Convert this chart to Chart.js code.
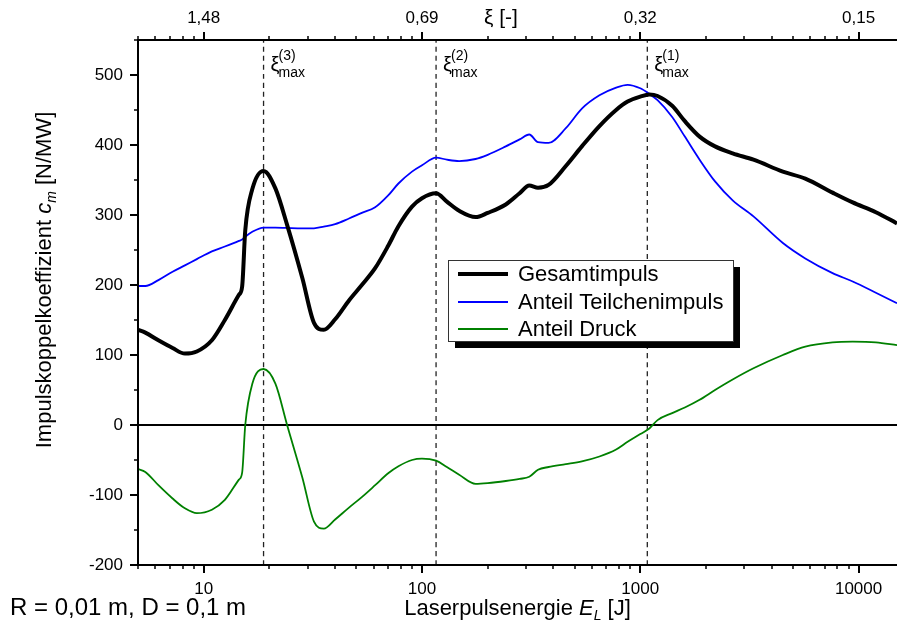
<!DOCTYPE html>
<html>
<head>
<meta charset="utf-8">
<script src="https://cdn.jsdelivr.net/npm/chart.js@4/dist/chart.umd.min.js"></script>
<style>
html,body{margin:0;padding:0;background:#fff;}
canvas{display:block;}
</style>
</head>
<body>
<canvas id="c" width="897" height="629" style="width:897px;height:629px"></canvas>
<script>
// ---------- DATA ----------
const energyJ = [5, 5.4, 6.2, 7.2, 8.2, 9.3, 10.9, 12.5, 14.5, 15, 15.5,
  16.7, 18.8, 21.3, 24.1, 28.3, 32, 35.5, 40, 46.3, 53,
  61, 70, 78, 90, 100, 116, 130, 148, 176, 200,
  242, 280, 310, 340, 380, 456, 540, 650, 775, 875,
  1000, 1100, 1200, 1400, 1600, 1870, 2200, 2650, 3300, 4500,
  5700, 7600, 9400, 12000, 15000];

const gesamtimpuls = [136, 132, 121, 110, 102, 105, 121, 150, 186, 198, 278,
  337, 363, 338, 286, 210, 146, 136, 151, 178, 200,
  224, 256, 284, 312, 324, 331, 319, 306, 297, 303,
  315, 331, 342, 339, 343, 370, 398, 427, 450, 462,
  469, 472, 470, 456, 434, 412, 398, 388, 379, 362,
  352, 332, 318, 304, 288];

const anteilTeilchenimpuls = [198.6, 198.6, 207, 219, 228, 237, 248, 255, 263, 265, 269,
  276, 282, 282, 281.5, 281, 281, 283.5, 287, 295, 303,
  311, 328, 345, 362, 371, 382, 379, 377, 380, 386,
  398, 408, 415, 404, 403, 424, 452, 471, 482, 486,
  481, 473, 464, 440, 412, 379, 348, 321, 298, 260,
  238, 217, 205, 189, 174];

const anteilDruck = [-63, -67, -86, -105, -119, -126, -121, -107, -78, -68, 0,
  59, 80, 59, 0, -75, -138, -148, -135, -118, -103,
  -86, -69, -59, -50, -48, -51, -60, -71, -84, -83,
  -80, -77, -74, -64, -60, -56, -52, -45, -35, -24,
  -13, -5, 7, 17, 25, 36, 50, 65, 81, 100,
  112, 118, 119, 118, 114];

const seriesLabels = ['Gesamtimpuls', 'Anteil Teilchenimpuls', 'Anteil Druck'];
const xiTickEnergies = [10, 100, 1000, 10000];
const xiTickLabels = ['1,48', '0,69', '0,32', '0,15'];
const xiMaxEnergies = [1077, 116, 18.8];
const xiMaxIndices = ['(1)', '(2)', '(3)'];
const xMin = 5, xMax = 15000, yMin = -200, yMax = 550;

// ---------- STYLE ----------
const FONT = "'Liberation Sans', Arial, Helvetica, sans-serif";
const pts = (arr) => energyJ.map((e, i) => ({x: e, y: arr[i]}));

function fontStr(p) {
  return (p.italic ? 'italic ' : '') + p.size + 'px ' + FONT;
}
function drawRich(ctx, parts, x, y, align) {
  let w = 0;
  parts.forEach(p => { ctx.font = fontStr(p); p.w = ctx.measureText(p.t).width; w += p.w; });
  let cx = align === 'center' ? x - w / 2 : x;
  parts.forEach(p => { ctx.font = fontStr(p); ctx.fillText(p.t, cx, y + (p.dy || 0)); cx += p.w; });
}
function isDecade(v) {
  const l = Math.log10(v);
  return Math.abs(l - Math.round(l)) < 1e-9;
}
function logTickValues(min, max) {
  const out = [];
  for (let k = Math.floor(Math.log10(min)); k <= Math.ceil(Math.log10(max)); k++) {
    for (let m = 1; m <= 9; m++) {
      const v = m * Math.pow(10, k);
      if (v >= min - 1e-9 && v <= max + 1e-9) out.push(v);
    }
  }
  return out;
}

const decor = {
  id: 'decor',
  afterDatasetsDraw(chart) {
    const ctx = chart.ctx;
    const a = chart.chartArea;
    const sx = chart.scales.x, sy = chart.scales.y;
    ctx.save();
    ctx.fillStyle = '#000';
    ctx.strokeStyle = '#000';

    // xi max labels
    ctx.textBaseline = 'alphabetic';
    ctx.textAlign = 'left';
    xiMaxEnergies.forEach((e, i) => {
      const px = sx.getPixelForValue(e);
      ctx.font = fontStr({size: 20});
      ctx.fillText('ξ', px + 7, 71);
      const w = ctx.measureText('ξ').width;
      ctx.font = fontStr({size: 14});
      ctx.fillText(xiMaxIndices[i], px + 7 + w - 1, 60);
      ctx.fillText('max', px + 7 + w - 1, 77);
    });

    // legend box with shadow
    const lx = 448, ly = 260, lw = 285, lh = 81;
    ctx.fillStyle = '#000';
    ctx.fillRect(lx + 7, ly + 7, lw, lh);
    ctx.fillStyle = '#fff';
    ctx.fillRect(lx, ly, lw, lh);
    ctx.lineWidth = 1;
    ctx.strokeStyle = '#333';
    ctx.strokeRect(lx + 0.5, ly + 0.5, lw, lh);
    const rows = [274, 302, 329];
    chart.data.datasets.slice(0, 3).forEach((ds, i) => {
      ctx.strokeStyle = ds.borderColor;
      ctx.lineWidth = ds.borderWidth;
      ctx.beginPath();
      ctx.moveTo(458, rows[i]);
      ctx.lineTo(508, rows[i]);
      ctx.stroke();
      ctx.fillStyle = '#000';
      ctx.font = fontStr({size: 22});
      ctx.textBaseline = 'middle';
      ctx.fillText(ds.label, 518, rows[i] + 1);
    });

    // frame
    ctx.strokeStyle = '#000';
    ctx.lineWidth = 2;
    ctx.beginPath();
    ctx.moveTo(a.left, a.top); ctx.lineTo(a.right + 2, a.top);
    ctx.moveTo(a.left, a.top - 1); ctx.lineTo(a.left, a.bottom + 1);
    ctx.moveTo(a.left - 1, a.bottom); ctx.lineTo(a.right + 2, a.bottom);
    ctx.stroke();

    // x ticks (bottom and top)
    logTickValues(xMin, xMax).forEach(v => {
      const px = Math.round(sx.getPixelForValue(v));
      const len = isDecade(v) ? 8 : 4;
      ctx.lineWidth = isDecade(v) ? 2 : 1.5;
      ctx.beginPath();
      ctx.moveTo(px, a.bottom); ctx.lineTo(px, a.bottom + len);
      ctx.moveTo(px, a.top); ctx.lineTo(px, a.top - len);
      ctx.stroke();
    });
    // y ticks
    for (let v = yMin; v <= yMax; v += 50) {
      const py = Math.round(sy.getPixelForValue(v));
      const major = v % 100 === 0;
      const len = major ? 8 : 4;
      ctx.lineWidth = major ? 2 : 1.5;
      ctx.beginPath();
      ctx.moveTo(a.left, py); ctx.lineTo(a.left - len, py);
      ctx.stroke();
    }

    // axis titles
    ctx.fillStyle = '#000';
    ctx.textBaseline = 'alphabetic';
    ctx.textAlign = 'left';
    drawRich(ctx, [
      {t: 'Laserpulsenergie ', size: 22},
      {t: 'E', size: 22, italic: true},
      {t: 'L', size: 14, italic: true, dy: 5},
      {t: ' [J]', size: 22}
    ], (a.left + a.right) / 2, 615, 'center');
    drawRich(ctx, [{t: 'R = 0,01 m, D = 0,1 m', size: 24}], 10, 615, 'left');
    drawRich(ctx, [{t: 'ξ [-]', size: 21}], 484, 24, 'left');

    ctx.translate(51, 280);
    ctx.rotate(-Math.PI / 2);
    drawRich(ctx, [
      {t: 'Impulskoppelkoeffizient ', size: 22},
      {t: 'c', size: 22, italic: true},
      {t: 'm', size: 14, italic: true, dy: 5},
      {t: ' [N/MW]', size: 22}
    ], 0, 0, 'center');
    ctx.restore();
  }
};

const tickFont = {family: FONT, size: 17};
const noPad = (s) => { s.paddingLeft = 0; s.paddingRight = 0; s.paddingTop = 0; s.paddingBottom = 0; };

const datasets = [
  {label: seriesLabels[0], data: pts(gesamtimpuls), borderColor: '#000000', borderWidth: 4, order: 0},
  {label: seriesLabels[1], data: pts(anteilTeilchenimpuls), borderColor: '#0000ff', borderWidth: 1.8, order: 1},
  {label: seriesLabels[2], data: pts(anteilDruck), borderColor: '#008000', borderWidth: 1.8, order: 2},
  {label: 'null', data: [{x: xMin, y: 0}, {x: xMax, y: 0}], borderColor: '#000', borderWidth: 2, order: 3}
];
xiMaxEnergies.forEach((e, i) => {
  datasets.push({label: 'xi' + i, data: [{x: e, y: yMin}, {x: e, y: yMax}],
    borderColor: '#222', borderWidth: 1.3, borderDash: [5, 4], order: 4});
});

new Chart(document.getElementById('c'), {
  type: 'line',
  data: {datasets},
  options: {
    responsive: false,
    animation: false,
    layout: {padding: 0},
    elements: {
      point: {radius: 0},
      line: {cubicInterpolationMode: 'monotone', fill: false}
    },
    plugins: {legend: {display: false}, tooltip: {enabled: false}},
    scales: {
      x: {
        type: 'logarithmic', position: 'bottom', min: xMin, max: xMax,
        grid: {display: false, drawTicks: false}, border: {display: false},
        ticks: {autoSkip: false, maxRotation: 0, minRotation: 0, padding: 14, font: tickFont, color: '#000',
          callback: (v) => (isDecade(v) && v >= 10 ? String(v) : '')},
        afterFit: (s) => { s.height = 64; noPad(s); }
      },
      x2: {
        type: 'logarithmic', position: 'top', min: xMin, max: xMax,
        grid: {display: false, drawTicks: false}, border: {display: false},
        ticks: {autoSkip: false, maxRotation: 0, minRotation: 0, padding: 11, font: tickFont, color: '#000',
          callback: (v) => {
            const i = xiTickEnergies.findIndex(e => Math.abs(e - v) < 1e-6);
            return i >= 0 ? xiTickLabels[i] : '';
          }},
        afterFit: (s) => { s.height = 40; noPad(s); }
      },
      y: {
        type: 'linear', position: 'left', min: yMin, max: yMax,
        grid: {display: false, drawTicks: false}, border: {display: false},
        ticks: {stepSize: 50, padding: 15, font: tickFont, color: '#000',
          callback: (v) => (v % 100 === 0 && v <= 500 ? String(v) : '')},
        afterFit: (s) => { s.width = 138; noPad(s); }
      }
    }
  },
  plugins: [decor]
});
</script>
</body>
</html>
